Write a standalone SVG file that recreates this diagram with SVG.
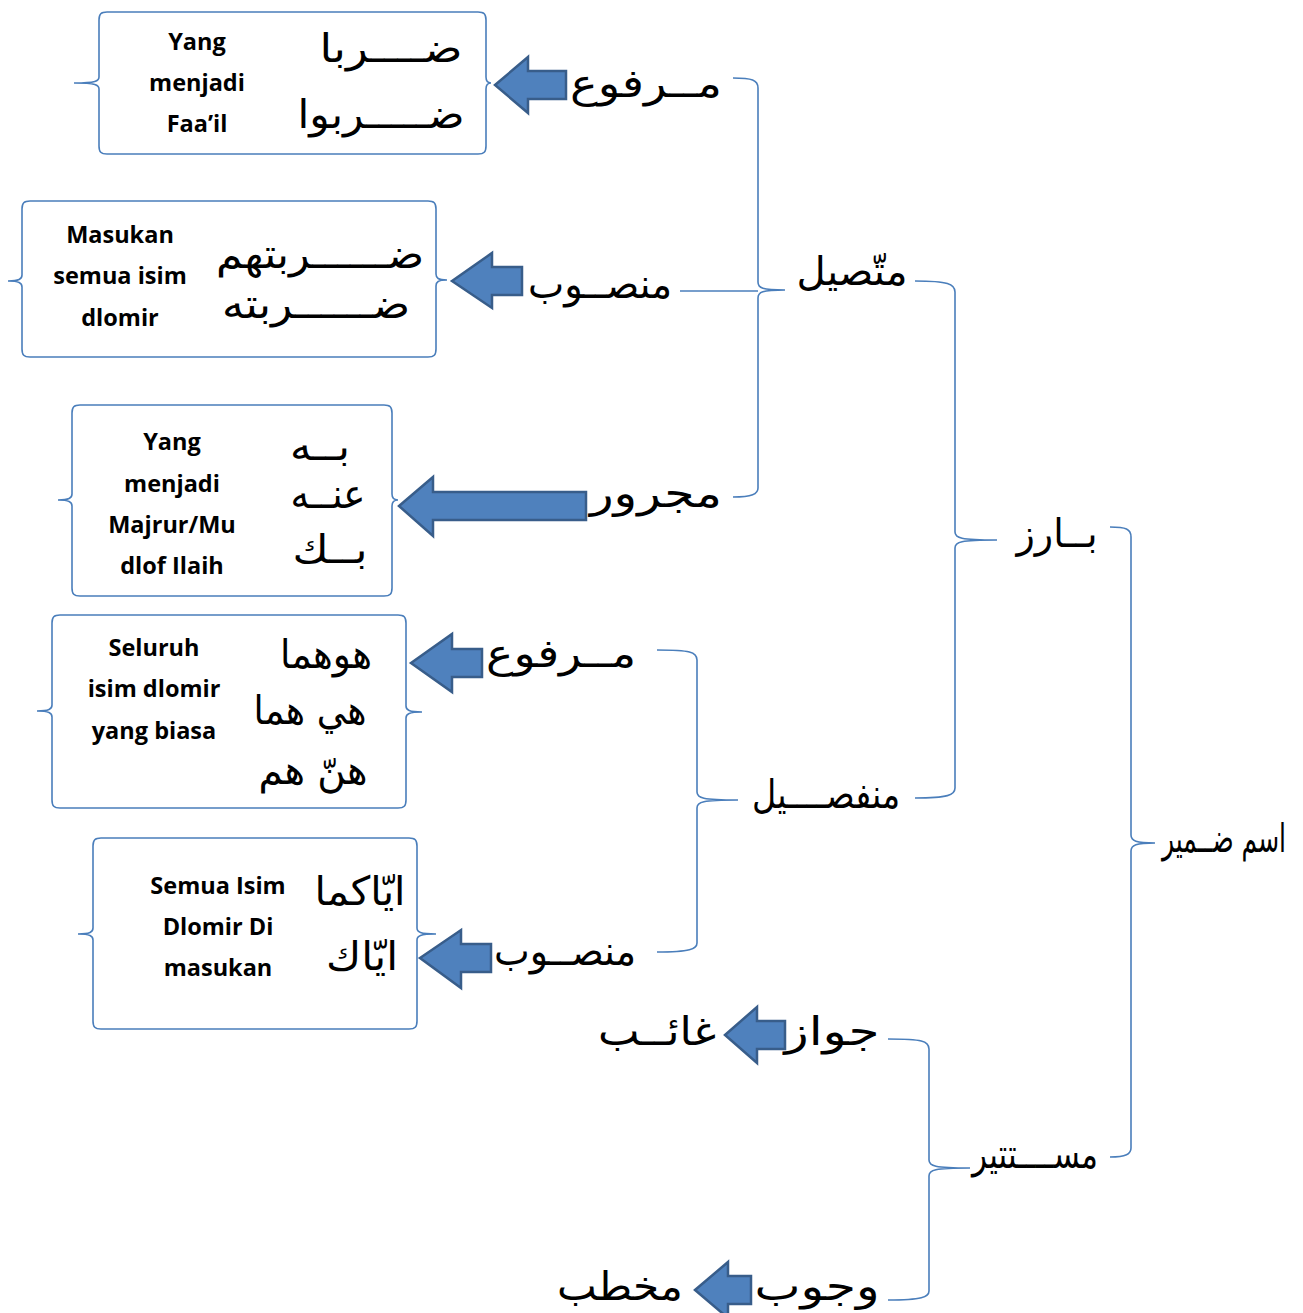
<svg xmlns="http://www.w3.org/2000/svg" width="1303" height="1313" viewBox="0 0 1303 1313">
<style>
.box{fill:#fff;stroke:#4A7EBB;stroke-width:1.6}
.br{fill:none;stroke:#4A7EBB;stroke-width:1.6}
.arr{fill:#4F81BD;stroke:#385D8A;stroke-width:2.5;stroke-linejoin:miter}
.lt{font-family:"Open Sans",Lato,sans-serif;font-weight:bold;font-size:23.5px;fill:#000;text-anchor:middle}
.ar{font-family:"DejaVu Sans","Noto Sans",sans-serif;font-size:40px;fill:#000;text-anchor:middle}
</style>
<rect width="1303" height="1313" fill="#fff"/>
<g id="connectors">
<path class="br" d="M733,78 C752,78 758,80 758,88 L758,282 C758,288 762,290 785,290 C762,290 758,292 758,298 L758,488 C758,494 752,497 733,497"/>
<path class="br" d="M680,291 L758,291"/>
<path class="br" d="M915,281 C948,281 955,284 955,292 L955,532 C955,538 960,540 997,540 C960,540 955,542 955,548 L955,788 C955,795 948,798 915,798"/>
<path class="br" d="M1110,527 C1126,527 1131,529 1131,537 L1131,835 C1131,841 1136,843 1155,843 C1136,843 1131,845 1131,851 L1131,1148 C1131,1154 1126,1157 1110,1157"/>
<path class="br" d="M657,650 C690,650 697,652 697,660 L697,792 C697,798 702,800 738,800 C702,800 697,802 697,808 L697,943 C697,949 690,952 657,952"/>
<path class="br" d="M888,1039 C922,1039 929,1041 929,1049 L929,1160 C929,1166 934,1168 970,1168 C934,1168 929,1170 929,1176 L929,1291 C929,1297 922,1300 888,1300"/>
<path class="arr" d="M495,85 L528,57 L528,71 L566,71 L566,99 L528,99 L528,113 Z"/>
<path class="arr" d="M452,281 L492,253 L492,267 L522,267 L522,295 L492,295 L492,308 Z"/>
<path class="arr" d="M399,506 L433,477 L433,492 L586,492 L586,520 L433,520 L433,536 Z"/>
<path class="arr" d="M411,663 L452,634 L452,649 L482,649 L482,677 L452,677 L452,692 Z"/>
<path class="arr" d="M420,958 L461,930 L461,944 L491,944 L491,972 L461,972 L461,988 Z"/>
<path class="arr" d="M725,1035 L757,1007 L757,1021 L785,1021 L785,1049 L757,1049 L757,1063 Z"/>
<path class="arr" d="M695,1290 L728,1262 L728,1276 L751,1276 L751,1304 L728,1304 L728,1318 Z"/>
</g>
<g id="box1">
<path class="box" d="M107,12 L478,12 C484,12 486,14 486,20 L486,77 C486,81 487,83 491,83 C487,83 486,85 486,89 L486,146 C486,152 484,154 478,154 L107,154 C101,154 99,152 99,146 L99,89 C99,85 96,83 74,83 C96,83 99,81 99,77 L99,20 C99,14 101,12 107,12 Z"/>
<text class="lt" x="197" y="50">Yang</text>
<text class="lt" x="197" y="91">menjadi</text>
<text class="lt" x="197" y="132">Faa’il</text>
<text class="ar" x="391" y="62" textLength="143" lengthAdjust="spacingAndGlyphs">ضــــربا</text>
<text class="ar" x="381" y="128" textLength="167" lengthAdjust="spacingAndGlyphs">ضـــــربوا</text>
</g>
<g id="marfu1"><text class="ar" x="646" y="97" font-size="46" textLength="152" lengthAdjust="spacingAndGlyphs">مــرفوع</text></g>
<g id="box2">
<path class="box" d="M30,201 L428,201 C434,201 436,203 436,209 L436,274 C436,278 438,280 447,280 C438,280 436,282 436,286 L436,349 C436,355 434,357 428,357 L30,357 C24,357 22,355 22,349 L22,287 C22,283 19,281 8,281 C19,281 22,279 22,275 L22,209 C22,203 24,201 30,201 Z"/>
<text class="lt" x="120" y="243">Masukan</text>
<text class="lt" x="120" y="284">semua isim</text>
<text class="lt" x="120" y="326">dlomir</text>
<text class="ar" x="320" y="268" textLength="208" lengthAdjust="spacingAndGlyphs">ضــــــربتهم</text>
<text class="ar" x="316" y="318" textLength="188" lengthAdjust="spacingAndGlyphs">ضــــــربته</text>
</g>
<g id="mansub1"><text class="ar" x="600" y="298" textLength="144" lengthAdjust="spacingAndGlyphs">منصــوب</text></g>
<g id="muttasil"><text class="ar" x="852" y="285" textLength="111" lengthAdjust="spacingAndGlyphs">متّصيل</text></g>
<g id="box3">
<path class="box" d="M80,405 L384,405 C390,405 392,407 392,413 L392,494 C392,498 394,500 398,500 C394,500 392,502 392,506 L392,588 C392,594 390,596 384,596 L80,596 C74,596 72,594 72,588 L72,506 C72,502 69,500 58,500 C69,500 72,498 72,494 L72,413 C72,407 74,405 80,405 Z"/>
<text class="lt" x="172" y="450">Yang</text>
<text class="lt" x="172" y="492">menjadi</text>
<text class="lt" x="172" y="533">Majrur/Mu</text>
<text class="lt" x="172" y="574">dlof Ilaih</text>
<text class="ar" x="320" y="460" textLength="60" lengthAdjust="spacingAndGlyphs">بــه</text>
<text class="ar" x="328" y="508" textLength="75" lengthAdjust="spacingAndGlyphs">عنــه</text>
<text class="ar" x="330" y="563" textLength="75" lengthAdjust="spacingAndGlyphs">بــك</text>
</g>
<g id="majrur"><text class="ar" x="656" y="507" font-size="46" textLength="132" lengthAdjust="spacingAndGlyphs">مجرور</text></g>
<g id="bariz"><text class="ar" x="1057" y="547" textLength="81" lengthAdjust="spacingAndGlyphs">بــارز</text></g>
<g id="box4">
<path class="box" d="M60,615 L398,615 C404,615 406,617 406,623 L406,706 C406,710 409,712 422,712 C409,712 406,714 406,718 L406,800 C406,806 404,808 398,808 L60,808 C54,808 52,806 52,800 L52,717 C52,713 49,711 37,711 C49,711 52,709 52,705 L52,623 C52,617 54,615 60,615 Z"/>
<text class="lt" x="154" y="656">Seluruh</text>
<text class="lt" x="154" y="697">isim dlomir</text>
<text class="lt" x="154" y="739">yang biasa</text>
<text class="ar" x="326" y="668" textLength="92" lengthAdjust="spacingAndGlyphs">هوهما</text>
<text class="ar" x="310" y="724" textLength="113" lengthAdjust="spacingAndGlyphs">هي هما</text>
<text class="ar" x="313" y="784" textLength="109" lengthAdjust="spacingAndGlyphs">هنّ هم</text>
</g>
<g id="marfu2"><text class="ar" x="561" y="667" font-size="46" textLength="150" lengthAdjust="spacingAndGlyphs">مــرفوع</text></g>
<g id="munfasil"><text class="ar" x="826" y="808" textLength="148" lengthAdjust="spacingAndGlyphs">منفصــــيل</text></g>
<g id="ismdomir"><text class="ar" x="1224" y="852" font-size="36" textLength="124" lengthAdjust="spacingAndGlyphs">اسم ضــمير</text></g>
<g id="box5">
<path class="box" d="M101,838 L409,838 C415,838 417,840 417,846 L417,928 C417,932 420,934 436,934 C420,934 417,936 417,940 L417,1021 C417,1027 415,1029 409,1029 L101,1029 C95,1029 93,1027 93,1021 L93,940 C93,936 90,934 78,934 C90,934 93,932 93,928 L93,846 C93,840 95,838 101,838 Z"/>
<text class="lt" x="218" y="894">Semua Isim</text>
<text class="lt" x="218" y="935">Dlomir Di</text>
<text class="lt" x="218" y="976">masukan</text>
<text class="ar" x="360" y="905" textLength="91" lengthAdjust="spacingAndGlyphs">ايّاكما</text>
<text class="ar" x="362" y="970" textLength="72" lengthAdjust="spacingAndGlyphs">ايّاك</text>
</g>
<g id="mansub2"><text class="ar" x="565" y="965" textLength="142" lengthAdjust="spacingAndGlyphs">منصــوب</text></g>
<g id="jawaz"><text class="ar" x="832" y="1045" font-size="44" textLength="95" lengthAdjust="spacingAndGlyphs">جواز</text></g>
<g id="ghaib"><text class="ar" x="657" y="1045" font-size="44" textLength="118" lengthAdjust="spacingAndGlyphs">غائــب</text></g>
<g id="mustatir"><text class="ar" x="1035" y="1168" textLength="126" lengthAdjust="spacingAndGlyphs">مســــتتير</text></g>
<g id="wujub"><text class="ar" x="817" y="1300" font-size="44" textLength="125" lengthAdjust="spacingAndGlyphs">وجوب</text></g>
<g id="mukhatab"><text class="ar" x="620" y="1300" font-size="44" textLength="126" lengthAdjust="spacingAndGlyphs">مخطب</text></g>
</svg>
